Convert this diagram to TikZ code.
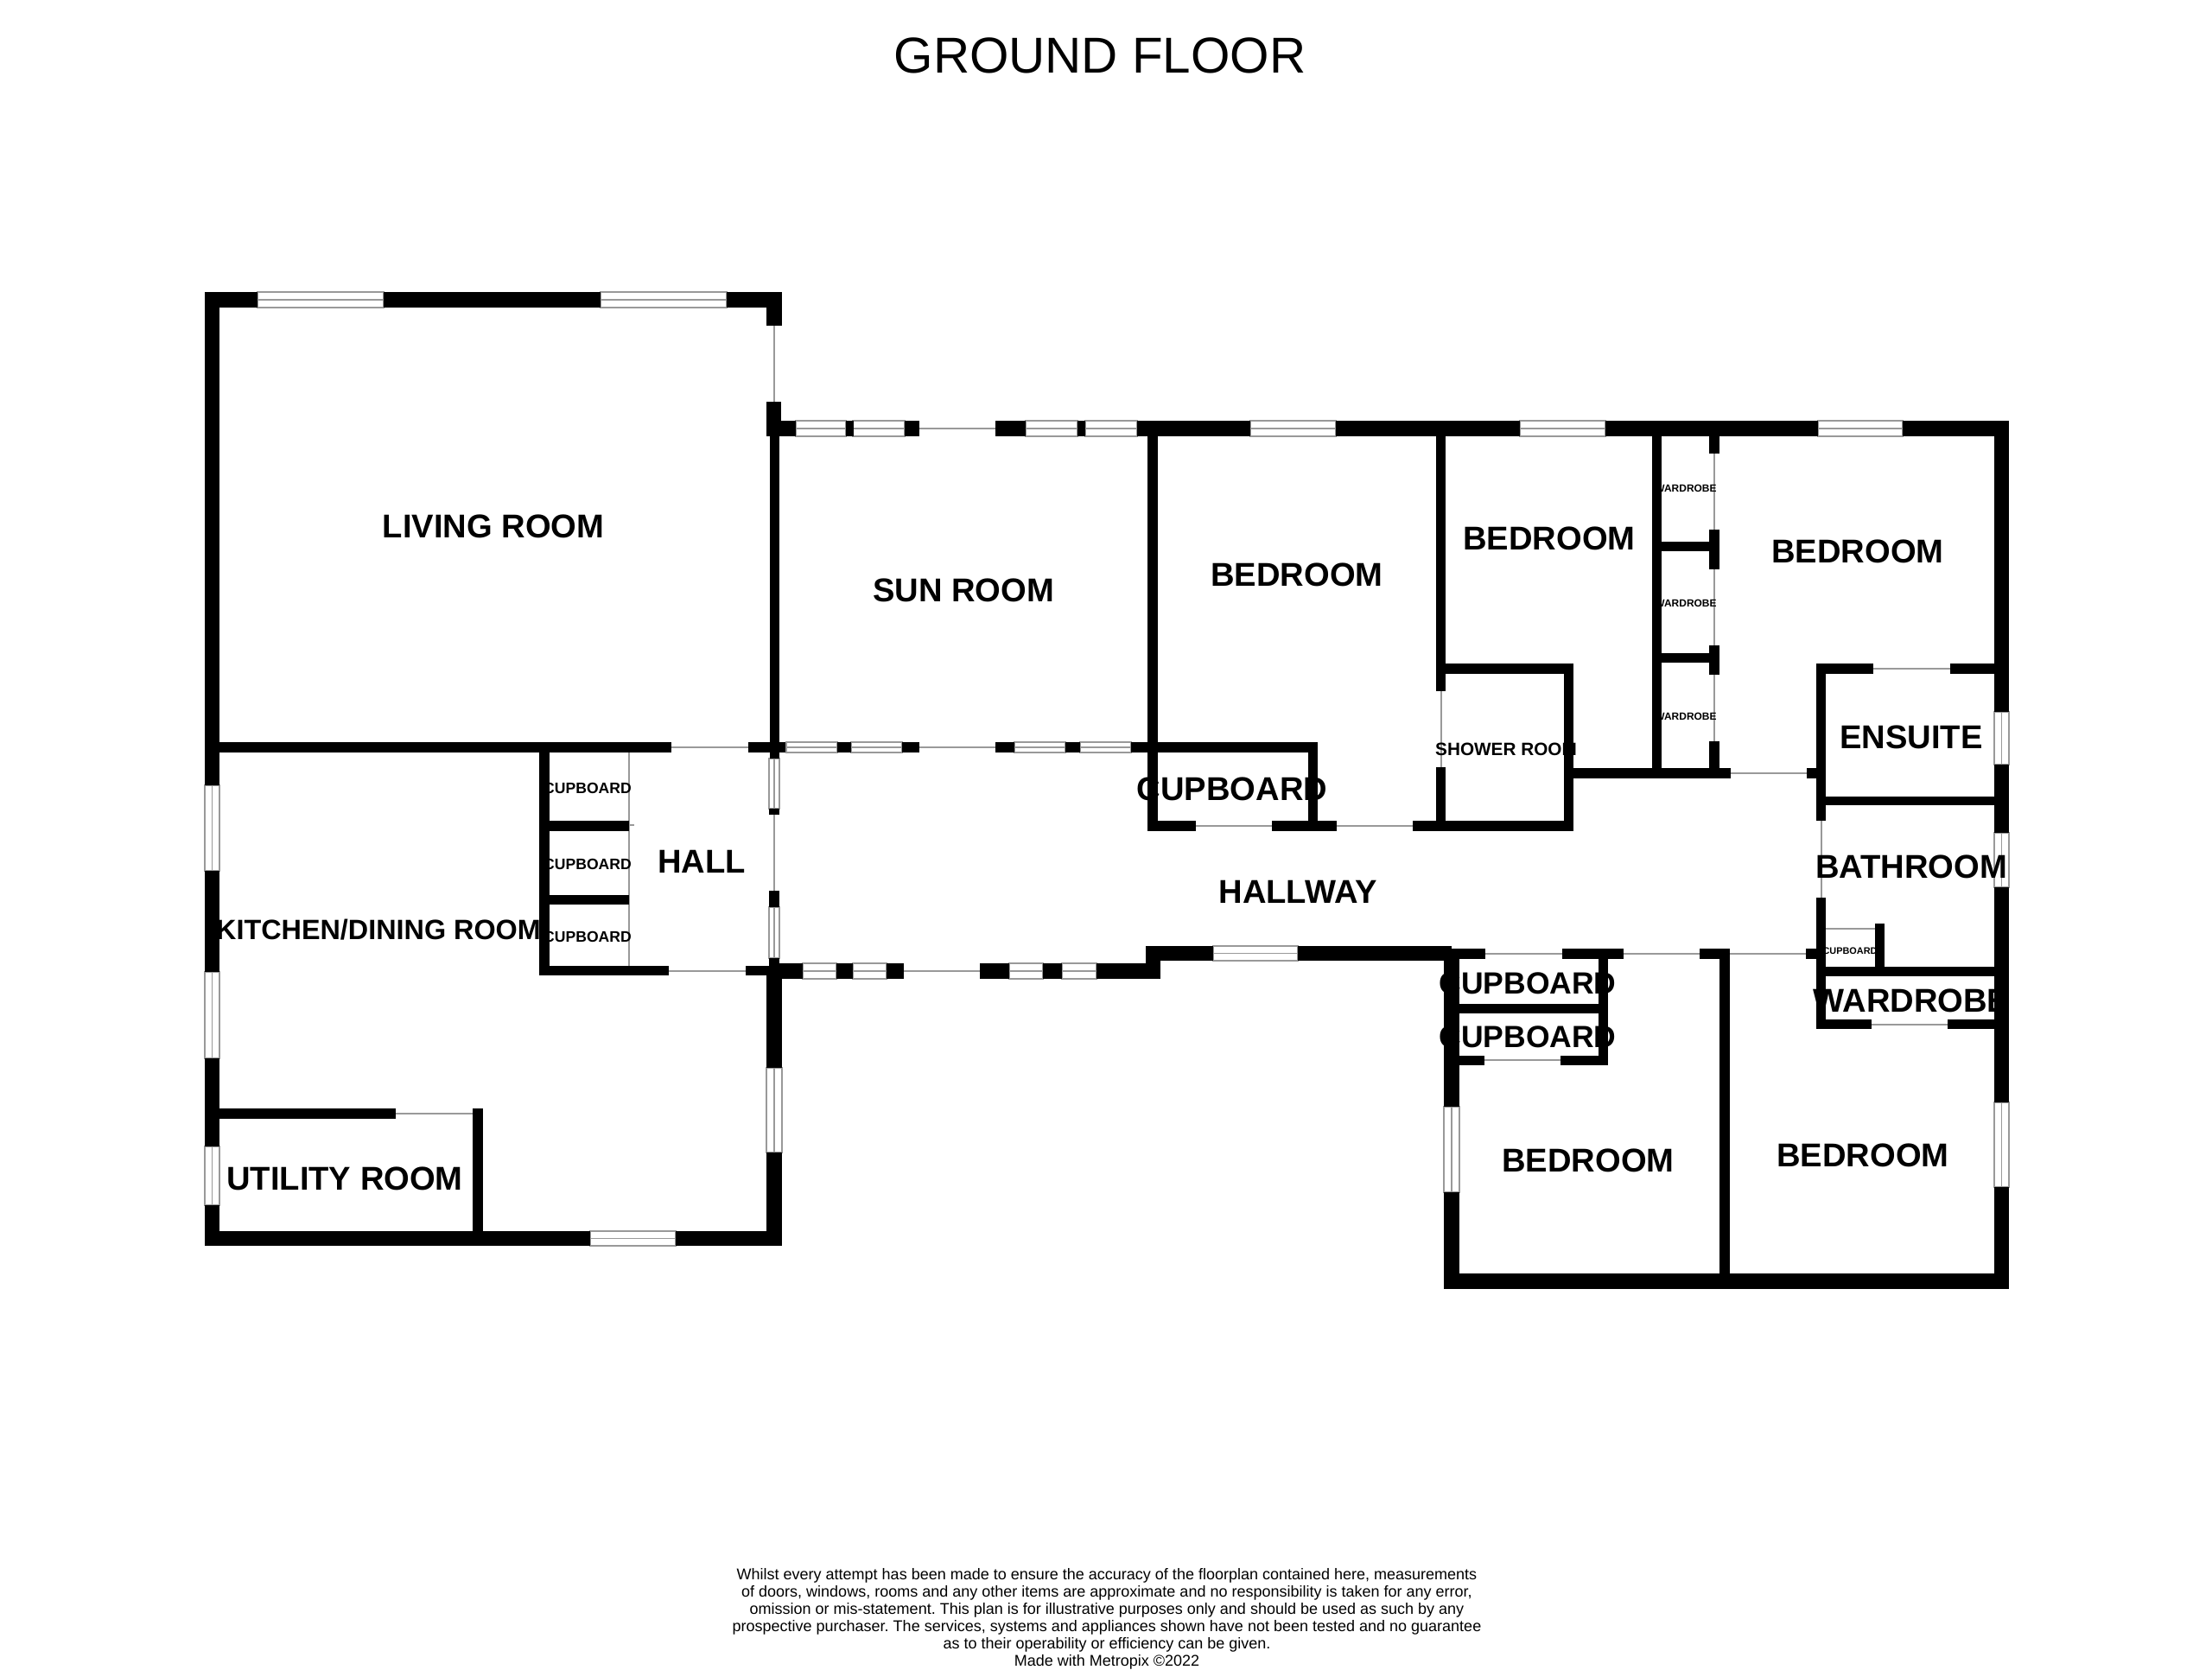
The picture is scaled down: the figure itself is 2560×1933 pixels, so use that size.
\documentclass[tikz,border=0pt]{standalone}
\usepackage{fontspec}
\setmainfont{Liberation Sans}
\frenchspacing
\tikzset{
	wall/.style={fill=black},
	glass/.style={draw=black!40,line width=0.45pt,fill=white},
	doorway/.style={draw=black!40,line width=0.45pt},
	room/.style={inner sep=0pt,font=\fontsize{10.85}{12}\bfseries\selectfont},
	cupbd/.style={inner sep=0pt,font=\fontsize{5}{6}\bfseries\selectfont},
	ward/.style={inner sep=0pt,font=\fontsize{3.4}{4}\bfseries\selectfont}
}
\begin{document}
\begin{tikzpicture}[x=0.01cm,y=-0.01cm]
	\useasboundingbox (0,0) rectangle (2560,1933);

	\node (title) at (1273,64) {\fontsize{16.6}{20}\selectfont GROUND FLOOR};

	% doorways
	\foreach \xa/\ya/\xb/\yb in {
		896/377/896/465, 777/865/866/865, 774/1124/863/1124, 458/1289/547/1289,
		728/871/728/1118, 896/943/896/1031, 1064/496/1152/496, 1064/865/1152/865,
		1046/1124/1134/1124, 1384/956/1472/956, 1547/956/1635/956, 1668/800/1668/888,
		1984/525/1984/613, 1984/659/1984/747, 1984/781/1984/858, 728/955/734/955,
		2168/774/2257/774, 2003/895/2091/895, 2108/950/2108/1039, 2113/1075/2170/1075,
		2002/1104/2090/1104, 1879/1104/1967/1104, 1719/1104/1808/1104,
		1718/1227/1806/1227, 2166/1186/2254/1186}
		\draw [doorway] (\xa,\ya) -- (\xb,\yb);

	% windows lying along x
	\foreach \xa/\xb/\ya/\yb in {
		298/444/338/356, 695/841/338/356, 683/782/1425/1442,
		921/979/487/505, 987/1047/487/505, 1187/1247/487/505, 1256/1316/487/505,
		1447/1546/487/505, 1759/1858/487/505, 2104/2202/487/505,
		910/969/859/871, 985/1044/859/871, 1174/1233/859/871, 1250/1309/859/871,
		929/968/1115/1133, 987/1026/1115/1133, 1168/1207/1115/1133, 1229/1269/1115/1133,
		1404/1502/1095/1112}{
		\draw [glass] (\xa,\ya) rectangle (\xb,\yb);
		\draw [doorway] (\xa,{(\ya+\yb)/2}) -- (\xb,{(\ya+\yb)/2});
	}

	% windows lying along y
	\foreach \xa/\xb/\ya/\yb in {
		237/254/909/1008, 237/254/1125/1225, 237/254/1327/1395, 887/905/1236/1334,
		890/902/878/936, 890/902/1050/1109,
		2308/2325/824/885, 2308/2325/964/1027, 2308/2325/1276/1374, 1671/1689/1281/1380}{
		\draw [glass] (\xa,\ya) rectangle (\xb,\yb);
		\draw [doorway] ({(\xa+\xb)/2},\ya) -- ({(\xa+\xb)/2},\yb);
	}

	% room names go under the walls
	\node [room] (living) at (571,609) {LIVING ROOM};
	\node [room] (sun) at (1115,683) {SUN ROOM};
	\node [room] (bedone) at (1501,665) {BEDROOM};
	\node [room] (bedtwo) at (1793,623) {BEDROOM};
	\node [room] (bedthree) at (2150,638) {BEDROOM};
	\node [room] (bedfour) at (1838,1343) {BEDROOM};
	\node [room] (bedfive) at (2156,1337) {BEDROOM};
	\node [room] (ensuite) at (2212,853) {ENSUITE};
	\node [room] (bath) at (2212,1003) {BATHROOM};
	\node [room] (hallway) at (1502,1032) {HALLWAY};
	\node [room] (hall) at (812,997) {HALL};
	\node [room] (utility) at (399,1364) {UTILITY ROOM};
	\node [room,font=\fontsize{9.2}{11}\bfseries\selectfont] (kitchen) at (438,1076) {KITCHEN/DINING ROOM};
	\node [room] (cupa) at (1426,913) {CUPBOARD};
	\node [room,font=\fontsize{10.1}{11}\bfseries\selectfont] (cupb) at (1768,1138) {CUPBOARD};
	\node [room,font=\fontsize{10.1}{11}\bfseries\selectfont] (cupc) at (1768,1200) {CUPBOARD};
	\node [room] (wardbig) at (2212,1158) {WARDROBE};
	\node [cupbd] (cupd) at (680,912) {CUPBOARD};
	\node [cupbd] (cupe) at (680,1000) {CUPBOARD};
	\node [cupbd] (cupf) at (680,1084) {CUPBOARD};
	\node [cupbd,font=\fontsize{3.1}{4}\bfseries\selectfont] (cupg) at (2141,1101) {CUPBOARD};
	\node [ward] (warda) at (1951,565) {WARDROBE};
	\node [ward] (wardb) at (1951,698) {WARDROBE};
	\node [ward] (wardc) at (1951,829) {WARDROBE};
	\node [cupbd,font=\fontsize{5.9}{7}\bfseries\selectfont] (shower) at (1743,867) {SHOWER ROOM};

	% walls
	\foreach \xa/\ya/\xb/\yb in {
		% living room
		237/338/254/909, 237/338/298/356, 444/338/695/356, 841/338/905/356,
		887/338/905/377, 887/465/904/496, 887/487/921/505, 891/496/902/878,
		254/859/777/871, 866/859/909/871,
		% kitchen and utility room
		237/1008/254/1125, 237/1225/254/1327, 237/1395/254/1442, 237/1425/683/1442,
		782/1425/905/1442, 887/1124/905/1236, 887/1334/905/1442,
		254/1283/458/1295, 547/1283/559/1425,
		624/871/636/1129, 636/950/728/962, 624/1036/728/1047, 624/1118/774/1129,
		890/936/902/943, 890/1031/902/1050, 890/1109/902/1118, 863/1118/890/1129,
		% sun room
		979/487/988/505, 1047/487/1064/505, 1152/487/1187/505, 1247/487/1256/505,
		1316/487/1447/505, 969/859/985/871, 1044/859/1064/871, 1152/859/1174/871,
		1233/859/1250/871, 1309/859/1525/871, 890/1115/929/1133, 968/1115/987/1133,
		1026/1115/1046/1133, 1134/1115/1168/1133, 1207/1115/1229/1133, 1269/1115/1343/1133,
		1326/1095/1343/1133, 1326/1095/1404/1112, 1502/1095/1680/1112,
		% bedrooms along the top
		1546/487/1759/505, 1858/487/2104/505, 2202/487/2325/505, 1328/505/1340/962,
		1514/871/1525/962, 1328/950/1384/962, 1472/950/1547/962, 1635/950/1821/962,
		1662/505/1673/800, 1662/888/1673/962, 1662/768/1821/780, 1810/768/1821/962,
		1821/889/2003/901, 1912/505/1923/889, 1923/627/1990/638, 1923/756/1990/767,
		1978/505/1990/525, 1978/613/1990/659, 1978/747/1990/781, 1978/858/1990/889,
		2091/889/2102/901,
		% ensuite and bathroom
		2308/505/2325/824, 2308/885/2325/964, 2308/1027/2325/1276, 2308/1374/2325/1492,
		2102/768/2168/780, 2257/768/2308/780, 2102/768/2113/950, 2113/922/2308/932,
		2102/1039/2113/1191, 2090/1098/2102/1110, 2170/1069/2181/1130, 2113/1119/2308/1130,
		2102/1180/2166/1191, 2254/1180/2308/1191,
		% bedrooms along the bottom
		1671/1098/1689/1281, 1671/1380/1689/1492, 1671/1474/2325/1492, 1990/1098/2002/1492,
		1967/1098/1990/1110, 1689/1098/1719/1110, 1808/1098/1879/1110, 1850/1098/1861/1233,
		1689/1162/1850/1173, 1689/1222/1718/1233, 1806/1222/1861/1233}
		\fill [wall] (\xa,\ya) rectangle (\xb,\yb);

	\node [align=center,inner sep=0pt,font=\fontsize{5.12}{5.67}\selectfont] (note) at (1281,1874) {Whilst every attempt has been made to ensure the accuracy of the floorplan contained here, measurements\\
		of doors, windows, rooms and any other items are approximate and no responsibility is taken for any error,\\
		omission or mis-statement. This plan is for illustrative purposes only and should be used as such by any\\
		prospective purchaser. The services, systems and appliances shown have not been tested and no guarantee\\
		as to their operability or efficiency can be given.\\
		Made with Metropix ©2022};
\end{tikzpicture}
\end{document}
